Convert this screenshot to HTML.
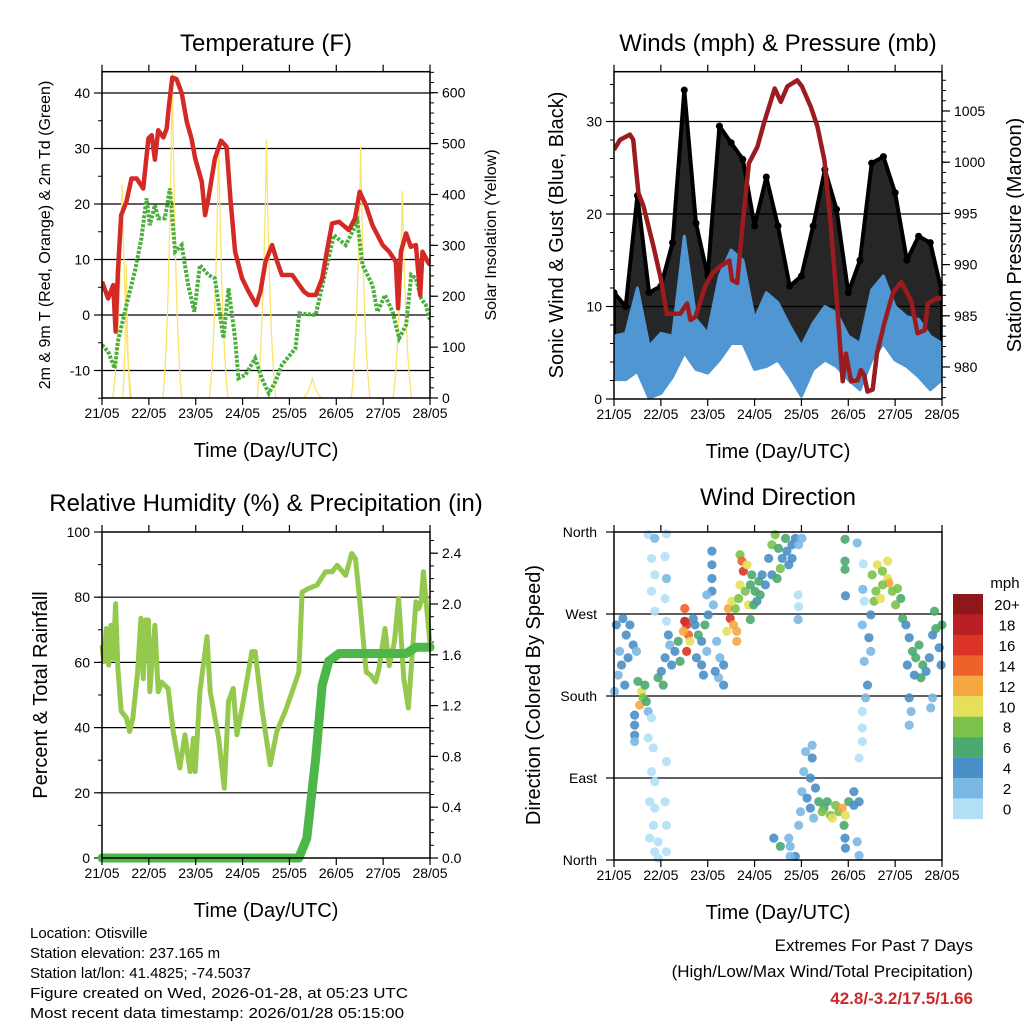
<!DOCTYPE html>
<html><head><meta charset="utf-8"><style>
html,body{margin:0;padding:0;background:#fff}
svg{display:block;font-family:"Liberation Sans",sans-serif}
</style></head><body>
<svg id="s" width="1024" height="1024" viewBox="0 0 1024 1024">
<g id="g1"></g>
<g id="g2"></g>
<g id="g3"></g>
<g id="g4"></g>
<g font-size="15" fill="#000">
<text x="30" y="938">Location: Otisville</text>
<text x="30" y="958">Station elevation: 237.165 m</text>
<text x="30" y="978">Station lat/lon: 41.4825; -74.5037</text>
<text x="30" y="998" textLength="378" lengthAdjust="spacingAndGlyphs">Figure created on Wed, 2026-01-28, at 05:23 UTC</text>
<text x="30" y="1018" textLength="374" lengthAdjust="spacingAndGlyphs">Most recent data timestamp: 2026/01/28 05:15:00</text>
</g>
<g text-anchor="end">
<text x="973" y="951" font-size="17">Extremes For Past 7 Days</text>
<text x="973" y="977" font-size="17">(High/Low/Max Wind/Total Precipitation)</text>
<text x="973" y="1004" font-size="17" font-weight="bold" fill="#cc2a2a">42.8/-3.2/17.5/1.66</text>
</g>
</svg>
<script>
// ===== DATA =====
const dayLabels=["21/05","22/05","23/05","24/05","25/05","26/05","27/05","28/05"];
// Temperature (days since 21/05 00Z, F)
const tempT=[0,0.13,0.24,0.29,0.34,0.41,0.52,0.63,0.74,0.88,0.99,1.06,1.13,1.20,1.31,1.38,1.43,1.50,1.59,1.70,1.81,1.91,1.99,2.13,2.20,2.27,2.41,2.54,2.66,2.74,2.84,2.99,3.13,3.29,3.38,3.49,3.63,3.74,3.84,4.06,4.16,4.31,4.41,4.56,4.70,4.81,4.91,5.06,5.27,5.40,5.50,5.63,5.77,5.99,6.13,6.27,6.32,6.38,6.49,6.59,6.70,6.79,6.84,6.95,7.0];
const tempR=[6,3,5.4,-3,7.8,18,20.4,24.6,24.6,22.8,31.8,32.4,28,33.3,32,33.6,37.8,42.8,42.5,40,34.8,31.8,28.2,24,18,21,28.2,31.4,30.3,21,11.4,6.6,4.2,1.8,4.2,9.6,12.6,9.6,7.2,7.2,6,4.2,3.6,3.6,6.6,12,16.5,16.8,15.3,17.4,22.2,19.8,16.2,12.6,11.4,9.6,1.2,11.4,14.7,12.3,12.6,3.6,11.4,9.6,9];
const tdT=[0,0.13,0.27,0.34,0.52,0.70,0.84,0.95,1.02,1.13,1.20,1.34,1.45,1.56,1.70,1.84,1.97,2.09,2.27,2.41,2.59,2.70,2.84,2.91,3.06,3.27,3.41,3.56,3.70,3.84,4.13,4.21,4.56,4.77,4.95,5.20,5.45,5.56,5.77,5.88,6.04,6.20,6.34,6.49,6.60,6.70,6.81,6.91,7.0];
const tdV=[-5.4,-6.6,-9.6,-4.8,1.8,7.8,13.8,21,16.2,19.8,17.4,17.4,22.8,11.4,12.6,5.4,0.6,9,7.2,6.6,-4.2,4.8,-4.2,-11.4,-10.8,-7.8,-11.4,-14.1,-12,-9,-6,0.3,0,7.8,14.4,12.6,16.8,9,5.4,0.6,3.6,0.6,-4.2,-1.8,7.2,6.6,3,1.8,-0.9];
const solarPeakT=[0.43,0.52,1.50,2.49,3.51,4.49,5.52,6.41];
const solarPeakV=[420,262,640,505,508,40,495,407];
// Winds (mph), 6-hourly envelope
const windT=[0,0.25,0.5,0.75,1,1.25,1.5,1.75,2,2.25,2.5,2.75,3,3.25,3.5,3.75,4,4.25,4.5,4.75,5,5.25,5.5,5.75,6,6.25,6.5,6.75,7];
const windHi=[6.8,7.1,12,5.7,7.1,6.8,17.6,8.6,7.1,13.3,16.1,15,8.6,11.5,10.4,7.9,5.7,8.2,10,9.3,6.8,6,11.8,13.3,10,8.9,8.6,6.8,6];
const windLo=[2.1,2.1,3,0.1,0.6,2.4,5,3.2,2.8,4.2,6,6,3.2,3.5,4.2,2.4,0.3,3.2,4.2,3.5,2.1,1,4.2,6,4.2,3.5,2.4,1,2.1];
const gustHi=[11.5,10,22,11.5,12.2,16.9,33.4,19,13.3,29.5,27.7,25.9,18.7,24,18.7,12.2,13.3,18.7,24.8,20.5,11.5,15,25.5,26.2,22.3,15,17.6,16.9,11.5];
const gustLo=[3.5,4.2,7.8,0.6,4.2,6,11.5,6,5,7.8,11.5,8.6,6,7.8,6,4.2,1.4,6,7.8,7.8,2.4,3.2,11.5,9.6,7.8,5,7.8,6,6];
const presT=[0,0.13,0.34,0.41,0.52,0.63,0.84,0.99,1.13,1.41,1.41,1.56,1.63,1.74,1.94,2.09,2.26,2.46,2.52,2.63,2.74,2.88,3.06,3.20,3.43,3.56,3.70,3.91,4.01,4.20,4.34,4.49,4.63,4.77,4.88,4.95,5.06,5.20,5.27,5.34,5.41,5.52,5.61,5.77,5.95,6.13,6.34,6.48,6.63,6.70,6.88,7.0];
const presV=[1001.2,1002.2,1002.7,1002.2,997,995.7,991.8,988.8,985.2,985.2,985.2,986.2,984.6,984.9,987.8,989.1,989.8,990.4,988.5,988.2,993.7,999.9,1001.5,1003.8,1007.2,1005.9,1007.4,1008,1007.4,1005.4,1003.5,1000.2,993.7,985.6,978.6,981.3,978.6,978.7,979.7,979.2,977.6,977.8,981.3,984.3,987.2,988.3,986.5,983.3,983.6,986.2,986.7,986.7];
// Humidity (%) & precipitation (in)
const rhT=[0,0.04,0.09,0.14,0.19,0.24,0.29,0.34,0.41,0.52,0.59,0.66,0.76,0.83,0.88,0.93,0.99,1.02,1.13,1.20,1.27,1.41,1.52,1.66,1.77,1.88,1.95,1.99,2.09,2.24,2.31,2.49,2.61,2.70,2.80,2.88,2.99,3.20,3.27,3.41,3.59,3.73,3.91,4.06,4.20,4.27,4.41,4.59,4.77,4.91,5.02,5.20,5.33,5.41,5.49,5.56,5.64,5.74,5.84,5.91,6.04,6.13,6.24,6.33,6.44,6.54,6.70,6.76,6.81,6.86,6.99,7.0];
const rhV=[65.3,60.2,70.4,59.2,71.4,61.2,78,58,45,43,38.8,43,57,73.5,55,73,73,51,71.4,51,54,52,38.8,27.6,37.8,26.5,36.7,26.5,51,67.9,51,36.7,21.4,48,52,37.8,46,63.3,63.3,46,28.6,38.8,45,51,57,81.6,82.7,83.7,87.8,87.8,89.8,86.7,93.4,91.8,80.6,69.4,57,56,54,58,70.4,59,66.3,79.6,55,46,78.6,76.5,78.6,87.8,67.3,65.3];
const prT=[0,4.2,4.37,4.56,4.70,4.84,5.06,6.49,6.70,7.0];
const prV=[0,0,0.155,0.785,1.36,1.55,1.61,1.61,1.66,1.66];
// Wind direction: day, degrees, speed (mph)
const dirT=[0.05,0.12,0.19,0.26,0.34,0.09,0.16,0.23,0.01,0.41,0.30,0.48,0.51,0.59,0.62,0.55,0.66,0.69,0.44,0.44,0.44,0.44,0.73,0.87,1.12,0.80,1.09,0.87,1.12,0.80,1.09,0.87,1.12,0.73,0.80,0.73,0.84,1.12,0.80,0.87,0.76,0.87,1.09,0.84,1.12,0.76,0.94,0.87,1.12,0.94,0.94,1.01,1.09,1.19,1.23,1.30,1.37,1.41,1.16,1.05,1.51,1.51,1.55,1.59,1.48,1.62,1.55,1.73,1.80,1.87,1.94,1.76,1.87,1.98,1.91,1.69,2.09,2.09,2.09,2.09,1.98,2.12,2.01,2.19,2.26,2.34,2.23,2.34,2.16,2.44,2.48,2.55,2.41,2.62,2.59,2.62,2.51,2.69,2.73,2.76,2.84,2.69,2.80,2.87,2.66,2.91,2.94,3.01,3.09,3.16,3.05,2.98,3.12,3.23,2.91,3.30,3.37,3.44,3.51,3.59,3.66,3.69,3.73,3.80,3.87,3.94,3.55,3.37,3.48,3.80,4.01,3.93,3.94,3.93,4.93,4.93,4.93,4.94,5.19,5.32,5.31,5.34,5.48,5.30,5.44,5.48,5.34,5.41,5.37,5.30,5.30,5.30,5.23,5.51,5.62,5.73,5.84,5.87,5.94,6.05,6.12,5.59,5.73,5.55,5.69,5.84,6.01,6.16,6.23,6.30,6.37,6.44,6.51,6.59,6.66,6.55,6.41,6.73,6.84,6.87,6.94,6.98,6.80,7.0,6.26,6.30,6.34,6.30,6.80,6.76,3.41,3.55,3.73,3.76,3.87,3.76,3.94,3.98,4.01,4.05,4.09,4.23,4.23,4.19,4.12,4.19,4.30,4.26,4.37,4.48,4.55,4.62,4.73,4.80,4.87,4.94,5.01,5.12,5.12,5.23,4.91,4.93,4.94,5.19,5.23,4.66,4.44];
const dirV=[258,229,265,247,258,203,214,192,185,236,222,229,196,185,178,170,192,174,159,148,137,130,357,353,358,331,333,313,309,295,287,273,262,163,156,134,123,108,97,86,64,57,64,38,38,24,20,9,9,2,200,207,222,236,214,229,240,218,247,192,276,262,258,247,251,240,229,258,247,240,258,222,214,229,203,265,339,324,309,295,291,280,269,240,222,214,200,192,207,276,265,258,251,251,276,240,284,335,328,317,324,302,295,280,287,302,313,295,306,313,284,280,291,302,264,331,346,357,342,331,353,339,324,346,353,346,320,313,309,331,353,291,278,264,352,328,319,290,348,325,297,284,269,258,244,229,218,192,178,163,145,130,112,313,324,317,309,304,295,298,287,295,302,284,287,328,280,265,258,244,229,222,236,214,207,200,203,222,273,254,233,214,247,258,214,178,163,148,178,167,24,15,24,15,4,4,38,53,75,97,119,126,112,90,68,57,79,46,64,57,64,49,60,53,57,49,64,60,75,64,38,24,13,20,5,46,53];
const dirS=[4,3,4,5,4,3,5,4,3,4,5,3,7,11,9,12,6,6,4,4,4,2,1,2,1,1,1,1,2,1,1,1,1,2,1,1,1,1,1,1,1,1,1,1,1,1,1,1,1,1,6,5,4,3,4,5,6,7,4,6,14,18,16,14,12,10,16,4,6,5,7,4,4,3,4,5,4,4,5,4,3,3,4,2,3,4,3,4,4,12,16,12,10,12,8,12,11,9,14,16,10,10,9,10,8,7,6,7,6,5,4,6,6,4,6,4,9,8,6,5,7,4,5,5,4,3,8,5,6,4,2,1,1,2,6,6,6,4,2,1,2,1,4,2,4,3,2,4,3,1,1,1,1,8,10,9,10,12,9,8,7,9,8,8,10,10,8,7,4,5,6,7,6,6,5,6,4,4,7,6,4,4,5,6,4,4,2,2,2,2,4,7,2,3,4,2,2,3,2,2,2,3,4,4,4,5,4,3,6,7,6,9,8,9,12,10,7,5,4,5,6,5,4,3,2,10,8];
const cbLabels=["20+","18","16","14","12","10","8","6","4","2","0"];
const cbColors=["#8f1719","#bb1f26","#db3327","#ee612b","#f5a742","#e5e05a","#7cc24a","#4ba86f","#4a8fc7","#7ab8e3","#b3e0f7"];

// ===== RENDER =====
const NS="http://www.w3.org/2000/svg";
function mk(p,tag,attrs){const e=document.createElementNS(NS,tag);for(const k in attrs)e.setAttribute(k,attrs[k]);p.appendChild(e);return e;}
function panel(g,x0,x1,y0,y1){
  const P={x0,x1,y0,y1,g};
  P.x=t=>x0+t/7*(x1-x0);
  return P;
}
function lin(d0,d1,p0,p1){return v=>p0+(v-d0)/(d1-d0)*(p1-p0);}
function frameAndX(P,title,ttlY,xtitle){
  const g=P.g;
  for(let i=0;i<8;i++){
    const x=P.x(i);
    const t1=mk(g,'line',{x1:x,x2:x,y1:P.y1,y2:P.y1+7,stroke:'#000','stroke-width':1.2});
    
    const t2=mk(g,'line',{x1:x,x2:x,y1:P.y0,y2:P.y0-7,stroke:'#000','stroke-width':1.2});
    
    const tx=mk(g,'text',{x:x,y:P.y1+20,'font-size':14,'text-anchor':'middle'});tx.textContent=dayLabels[i];
    
  }
  const tt=mk(g,'text',{x:(P.x0+P.x1)/2,y:ttlY,'font-size':24,'text-anchor':'middle'});tt.textContent=title;
  
  const xt=mk(g,'text',{x:(P.x0+P.x1)/2,y:P.y1+59,'font-size':20,'text-anchor':'middle'});xt.textContent=xtitle;
  
}
function border(P){
  const r=mk(P.g,'rect',{x:P.x0,y:P.y0,width:P.x1-P.x0,height:P.y1-P.y0,fill:'none',stroke:'#000','stroke-width':1.5});
  
}
function yAxis(P,scale,majors,labels,minorStep,minV,maxV,side,grid){
  const g=P.g;
  const xe=side==='l'?P.x0:P.x1, dir=side==='l'?-1:1;
  for(let v=minV;v<=maxV+1e-9;v+=minorStep){
    const y=scale(v);if(y<P.y0-0.5||y>P.y1+0.5)continue;
    const m=mk(g,'line',{x1:xe,x2:xe+dir*4,y1:y,y2:y,stroke:'#000','stroke-width':1});
    
  }
  majors.forEach((v,i)=>{
    const y=scale(v);
    if(grid&&y>P.y0+1&&y<P.y1-1){const gl=mk(g,'line',{x1:P.x0,x2:P.x1,y1:y,y2:y,stroke:'#000','stroke-width':1.2});
      }
    const t=mk(g,'line',{x1:xe,x2:xe+dir*8,y1:y,y2:y,stroke:'#000','stroke-width':1.2});
    
    const tx=mk(g,'text',{x:xe+dir*12,y:y+5,'font-size':14,'text-anchor':side==='l'?'end':'start'});tx.textContent=labels[i];
    
  });
}
function yTitle(g,x,y,txt,fs,name){
  const t=mk(g,'text',{x:x,y:y,'font-size':fs,'text-anchor':'middle',transform:`rotate(-90 ${x} ${y})`});t.textContent=txt;
  
}
function path(P,xs,ys,sx,sy){return xs.map((t,i)=>(i?'L':'M')+sx(t).toFixed(1)+','+sy(ys[i]).toFixed(1)).join('');}

// Panel 1
(function(){
  const g=document.getElementById('g1');const P=panel(g,102,430,71.7,398);
  const yT=lin(0,10,315,259.5), yS=lin(0,600,398,92.7);
  yAxis(P,yT,[-10,0,10,20,30,40],["-10","0","10","20","30","40"],5,-15,45,'l',true);
  yAxis(P,yS,[0,100,200,300,400,500,600],["0","100","200","300","400","500","600"],20,0,640,'r',false);
  const cp=mk(document.getElementById('s'),'clipPath',{id:'c1'});mk(cp,'rect',{x:102,y:71.7,width:328,height:326.3});
  const cl=mk(g,'g',{'clip-path':'url(#c1)'});
  solarPeakT.forEach((t,i)=>{
    const w=i===1?0.08:0.2;
    const d=`M${P.x(t-w)},${yS(0)}Q${P.x(t-w*0.35)},${yS(solarPeakV[i]*0.2)} ${P.x(t)},${yS(solarPeakV[i])}Q${P.x(t+w*0.35)},${yS(solarPeakV[i]*0.2)} ${P.x(t+w)},${yS(0)}`;
    const e=mk(cl,'path',{d:d,fill:'none',stroke:'#fce36a','stroke-width':1.3});
    
  });
  const gr=mk(cl,'path',{d:path(P,tdT,tdV,P.x,yT),fill:'none',stroke:'#4cae3f','stroke-width':4,'stroke-dasharray':'3 1.5'});
  
  const rd=mk(cl,'path',{d:path(P,tempT,tempR,P.x,yT),fill:'none',stroke:'#d42a26','stroke-width':4.5,'stroke-linejoin':'round'});
  
  border(P);frameAndX(P,'Temperature (F)',51,'Time (Day/UTC)');
  yTitle(g,50,235,'2m & 9m T (Red, Orange) & 2m Td (Green)',16,'y-axis-title-left');
  yTitle(g,496,235,'Solar Insolation (Yellow)',16,'y-axis-title-right');
})();

// Panel 2
(function(){
  const g=document.getElementById('g2');const P=panel(g,614,942,71.7,399);
  const yW=lin(0,30,399,121.5), yP=lin(980,1005,367,111);
  yAxis(P,yW,[0,10,20,30],["0","10","20","30"],2,0,36,'l',true);
  yAxis(P,yP,[980,985,990,995,1000,1005],["980","985","990","995","1000","1005"],1,977,1008,'r',false);
  const cp=mk(document.getElementById('s'),'clipPath',{id:'c2'});mk(cp,'rect',{x:614,y:71.7,width:328,height:327.3});
  const cl=mk(g,'g',{'clip-path':'url(#c2)'});
  const gb=mk(cl,'path',{d:path(P,windT,gustHi,P.x,yW)+path(P,windT.slice().reverse(),gustLo.slice().reverse(),P.x,yW).replace('M','L')+'Z',fill:'#000','fill-opacity':0.85,stroke:'#000','stroke-width':4,'stroke-linejoin':'round'});
  
  windT.forEach((t,i)=>{
    const c=mk(cl,'circle',{cx:P.x(t),cy:yW(gustHi[i]),r:3.5,fill:'#000'});
    
  });
  const wb=mk(cl,'path',{d:path(P,windT,windHi,P.x,yW)+path(P,windT.slice().reverse(),windLo.slice().reverse(),P.x,yW).replace('M','L')+'Z',fill:'#4f96d2',stroke:'#4f96d2','stroke-width':3,'stroke-linejoin':'round'});
  
  const pr=mk(cl,'path',{d:path(P,presT,presV,P.x,yP),fill:'none',stroke:'#9b1c1f','stroke-width':4.5,'stroke-linejoin':'round'});
  
  border(P);frameAndX(P,'Winds (mph) & Pressure (mb)',51,'Time (Day/UTC)');
  yTitle(g,563,235,'Sonic Wind & Gust (Blue, Black)',20,'y-axis-title-left');
  yTitle(g,1021,235,'Station Pressure (Maroon)',20,'y-axis-title-right');
})();

// Panel 3
(function(){
  const g=document.getElementById('g3');const P=panel(g,102,430,532,858);
  const yR=lin(0,100,858,532), yPr=lin(0,2.4,858,553.2);
  yAxis(P,yR,[0,20,40,60,80,100],["0","20","40","60","80","100"],10,0,100,'l',true);
  yAxis(P,yPr,[0,0.4,0.8,1.2,1.6,2.0,2.4],["0.0","0.4","0.8","1.2","1.6","2.0","2.4"],0.1,0,2.5,'r',false);
  const rh=mk(g,'path',{d:path(P,rhT,rhV,P.x,yR),fill:'none',stroke:'#94c94e','stroke-width':5,'stroke-linejoin':'round'});
  
  const pr=mk(g,'path',{d:path(P,prT,prV,P.x,yPr),fill:'none',stroke:'#4cb748','stroke-width':9,'stroke-linejoin':'round','stroke-linecap':'round'});
  
  border(P);frameAndX(P,'Relative Humidity (%) & Precipitation (in)',511,'Time (Day/UTC)');
  yTitle(g,47,695,'Percent & Total Rainfall',20,'y-axis-title-left');
})();

// Panel 4
(function(){
  const g=document.getElementById('g4');const P=panel(g,614,942,532,860);
  const yD=lin(0,360,860,532);
  const names=["North","East","South","West","North"];
  [0,90,180,270,360].forEach((v,i)=>{
    const y=yD(v);
    if(i>0&&i<4){const gl=mk(g,'line',{x1:P.x0,x2:P.x1,y1:y,y2:y,stroke:'#000','stroke-width':1.2});
      }
    const t=mk(g,'line',{x1:P.x0-8,x2:P.x0,y1:y,y2:y,stroke:'#000','stroke-width':1.2});
    
    const tx=mk(g,'text',{x:P.x0-17,y:y+5,'font-size':14,'text-anchor':'end'});tx.textContent=names[i];
    
  });
  dirT.forEach((t,i)=>{
    const bin=Math.min(10,Math.floor(dirS[i]/2));
    const c=mk(g,'circle',{cx:P.x(t),cy:yD(dirV[i]),r:4.6,fill:cbColors[10-bin],'fill-opacity':0.9});
    
  });
  border(P);frameAndX(P,'Wind Direction',505,'Time (Day/UTC)');
  yTitle(g,540,695,'Direction (Colored By Speed)',20,'y-axis-title-left');
  const lg=mk(g,'g',{});
  const mph=mk(lg,'text',{x:1005,y:588,'font-size':15,'text-anchor':'middle'});mph.textContent='mph';
  
  cbLabels.forEach((l,i)=>{
    const y=594+i*20.45;
    const r=mk(lg,'rect',{x:953,y:y,width:30,height:20.6,fill:cbColors[i]});
    
    const tx=mk(lg,'text',{x:1007,y:y+16,'font-size':15,'text-anchor':'middle'});tx.textContent=l;
    
  });
})();
</script>
</body></html>
